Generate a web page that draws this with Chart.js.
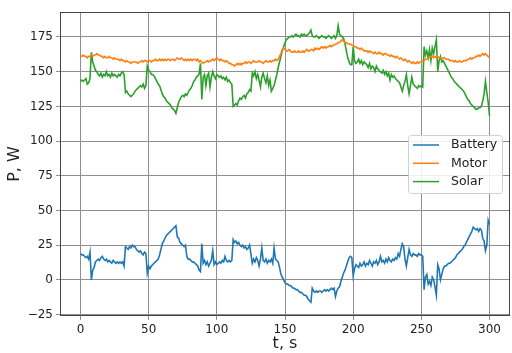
<!DOCTYPE html>
<html>
<head>
<meta charset="utf-8">
<script src="https://cdn.jsdelivr.net/npm/chart.js"></script>
<style>
  body { margin: 0; background: #fff; }
  #wrap { width: 512px; height: 353px; }
</style>
</head>
<body>
<div id="wrap"><canvas id="grafico" width="512" height="353"></canvas></div>
<script>
// time axis, one sample per second
const tempo = Array.from({ length: 301 }, (_, i) => i);

const xTicks = [0, 50, 100, 150, 200, 250, 300];
const yTicks = [-25, 0, 25, 50, 75, 100, 125, 150, 175];

const battery = [
    19, 18, 18, 17, 16, 17, 15, 20, 0, 7,
    9, 13, 14, 15, 14, 16, 17, 15, 14, 15,
    13, 14, 13, 12, 14, 13, 12, 13, 12, 13,
    12, 13, 10, 24, 23, 22, 24, 23, 25, 24,
    24, 22, 21, 20, 21, 19, 18, 20, 19, 5,
    10, 8, 10, 11, 12, 13, 14, 15, 18, 22,
    26, 28, 30, 32, 33, 34, 35, 36, 37, 38,
    39, 31, 30, 27, 26, 25, 24, 25, 17, 15,
    15, 14, 13, 13, 12, 11, 10, 7, 6, 26,
    12, 14, 11, 13, 10, 12, 14, 21, 11, 13,
    11, 12, 13, 12, 14, 13, 17, 14, 13, 14,
    13, 14, 29, 27, 28, 26, 27, 25, 24, 25,
    23, 24, 22, 23, 25, 19, 12, 15, 13, 16,
    14, 10, 15, 23, 14, 13, 15, 12, 14, 13,
    15, 12, 23, 15, 14, 13, 9, 4, 2, 0,
    -2, -3, -3, -4, -4, -5, -6, -6, -7, -7,
    -8, -9, -9, -10, -11, -11, -12, -14, -15, -16,
    -6, -8, -9, -8, -9, -8, -8, -9, -8, -7,
    -8, -7, -8, -7, -6, -7, -6, -12, -8, -6,
    -5, -1, 2, 5, 7, 10, 13, 16, 17, 16,
    3, 8, 11, 10, 9, 12, 10, 11, 13, 10,
    12, 11, 14, 12, 10, 13, 12, 14, 11, 13,
    17, 13, 14, 12, 15, 13, 16, 14, 13, 15,
    14, 16, 15, 19, 17, 22, 26, 24, 15, 10,
    16, 22, 18, 17, 19, 18, 18, 17, 19, 18,
    18, 17, -7, 2, 4, -3, -1, -4, 2, 0,
    -5, -11, 11, 8, 0, 4, 8, 10, 10, 11,
    12, 12, 13, 14, 15, 16, 18, 19, 20, 21,
    22, 24, 25, 27, 29, 31, 33, 35, 38, 37,
    36, 37, 35, 37, 36, 30, 28, 21, 25, 43,
    40
];

const motor = [
    161, 161, 162, 161, 161, 160, 161, 161, 162, 161,
    162, 162, 163, 162, 162, 161, 161, 160, 161, 160,
    160, 161, 160, 160, 159, 160, 159, 159, 159, 158,
    159, 158, 158, 157, 158, 157, 157, 156, 157, 157,
    157, 157, 156, 157, 157, 158, 157, 158, 158, 157,
    158, 158, 157, 158, 158, 159, 158, 158, 159, 158,
    159, 158, 159, 158, 159, 159, 158, 159, 159, 158,
    159, 160, 159, 159, 160, 159, 158, 159, 158, 159,
    158, 159, 158, 159, 159, 158, 159, 157, 158, 157,
    156, 157, 157, 158, 157, 158, 158, 159, 158, 159,
    160, 159, 158, 159, 158, 158, 157, 158, 157, 156,
    156, 155, 155, 154, 155, 156, 155, 156, 155, 156,
    156, 157, 156, 157, 157, 156, 157, 158, 157, 157,
    157, 158, 157, 157, 156, 157, 158, 157, 157, 158,
    157, 158, 158, 159, 158, 159, 161, 163, 166, 167,
    166, 165, 165, 166, 165, 164, 164, 165, 164, 164,
    165, 164, 164, 165, 164, 165, 166, 165, 165, 166,
    166, 165, 167, 166, 167, 166, 167, 168, 167, 168,
    167, 168, 168, 169, 168, 169, 169, 170, 170, 171,
    171, 172, 173, 172, 171, 171, 170, 170, 170, 169,
    169, 168, 168, 167, 167, 166, 167, 166, 165, 165,
    165, 164, 165, 164, 164, 163, 164, 163, 163, 164,
    163, 163, 162, 163, 163, 162, 162, 161, 162, 161,
    161, 160, 161, 160, 159, 160, 159, 158, 159, 158,
    157, 158, 157, 156, 157, 156, 156, 157, 156, 157,
    157, 158, 158, 159, 159, 160, 160, 161, 161, 160,
    161, 160, 161, 160, 160, 159, 160, 160, 159, 159,
    159, 158, 158, 158, 157, 158, 157, 157, 158, 157,
    157, 158, 158, 158, 159, 159, 160, 159, 160, 160,
    161, 161, 162, 161, 162, 163, 162, 163, 162, 161,
    160
];

const solar = [
    143, 144, 143, 144, 145, 141, 142, 145, 164, 157,
    154, 151, 150, 148, 147, 149, 146, 148, 147, 150,
    147, 148, 146, 149, 147, 148, 147, 146, 148, 147,
    149, 150, 148, 135, 136, 134, 133, 132, 133, 134,
    136, 137, 138, 139, 140, 139, 141, 138, 140, 154,
    151, 150, 148, 148, 147, 145, 143, 141, 140, 137,
    134, 132, 131, 129, 128, 127, 126, 124, 123, 122,
    120, 124, 128, 130, 132, 133, 132, 134, 133, 135,
    137, 138, 140, 143, 144, 146, 147, 148, 156, 130,
    146, 148, 140, 147, 149, 139, 146, 150, 147, 145,
    148, 147, 146, 147, 145, 146, 144, 146, 143, 144,
    142, 141, 125, 126, 127, 126, 129, 131, 130, 132,
    133, 131, 134, 135, 137, 136, 149, 147, 150, 145,
    148, 144, 139, 146, 149, 145, 142, 147, 140, 144,
    136, 138, 140, 144, 148, 153, 157, 161, 165, 168,
    171, 173, 174, 175, 175, 176, 175, 176, 177, 176,
    176, 175, 177, 176, 177, 176, 176, 177, 178, 180,
    176, 175, 175, 176, 175, 174, 175, 176, 175, 175,
    174, 175, 176, 175, 174, 175, 176, 174, 176, 183,
    177, 176, 175, 174, 170, 165, 160, 157, 155, 155,
    168, 158, 156, 157, 159, 156, 158, 155, 157, 156,
    155, 153, 156, 152, 154, 153, 150, 154, 152, 151,
    150, 149, 151, 148, 150, 147, 149, 144, 148, 146,
    147, 145, 144, 143, 142, 139, 136, 140, 143, 148,
    140, 134, 140, 146, 141, 140, 139, 138, 140, 139,
    140, 139, 168, 162, 165, 160, 166, 158, 167, 163,
    168, 173, 150, 158, 161, 157, 158, 156, 154, 152,
    150, 148, 146, 145, 143, 142, 141, 140, 139, 138,
    137, 136, 134, 132, 130, 129, 127, 126, 125, 124,
    123, 123, 124, 124, 125, 129, 134, 143, 135, 128,
    118
];

const fonte = '"DejaVu Sans", sans-serif';

function serie(label, valores, cor) {
    return {
        label: label,
        data: tempo.map((t, i) => ({ x: t, y: valores[i] })),
        borderColor: cor,
        backgroundColor: cor,
        borderWidth: 1.6,
        pointRadius: 0,
        tension: 0,
        fill: false
    };
}

// moldura em volta da area do grafico + legenda dentro da area
const moldura = {
    id: 'moldura',
    afterDraw(chart) {
        const ctx = chart.ctx;
        const a = chart.chartArea;
        ctx.save();
        ctx.strokeStyle = '#444';
        ctx.lineWidth = 1;
        ctx.strokeRect(a.left + 0.5, a.top + 0.5, a.right - a.left - 1, a.bottom - a.top - 1);

        // legenda
        const lx = a.right - 102, ly = 135, lw = 94, lh = 58;
        ctx.fillStyle = 'rgba(255,255,255,0.85)';
        ctx.strokeStyle = '#d0d0d0';
        ctx.beginPath();
        ctx.roundRect(lx + 0.5, ly + 0.5, lw, lh, 3);
        ctx.fill();
        ctx.stroke();

        ctx.font = '12.5px ' + fonte;
        ctx.textBaseline = 'middle';
        chart.data.datasets.forEach((ds, i) => {
            const yy = ly + 10 + i * 18.3;
            ctx.strokeStyle = ds.borderColor;
            ctx.lineWidth = 1.5;
            ctx.beginPath();
            ctx.moveTo(lx + 5, yy);
            ctx.lineTo(lx + 31, yy);
            ctx.stroke();
            ctx.fillStyle = '#222';
            ctx.fillText(ds.label, lx + 43, yy);
        });
        ctx.restore();
    }
};

const config = {
    type: 'line',
    data: {
        datasets: [
            serie('Battery', battery, '#1f77b4'),
            serie('Motor', motor, '#ff7f0e'),
            serie('Solar', solar, '#2ca02c')
        ]
    },
    options: {
        responsive: false,
        animation: false,
        layout: { padding: { top: 12, right: 2, left: 0, bottom: 0 } },
        plugins: {
            legend: { display: false },
            tooltip: { enabled: false }
        },
        scales: {
            x: {
                type: 'linear',
                min: -15,
                max: 315,
                afterBuildTicks: (axis) => { axis.ticks = xTicks.map(v => ({ value: v })); },
                afterFit: (axis) => { axis.height = 37; },
                ticks: { color: '#222', font: { family: fonte, size: 12 }, padding: 3, maxRotation: 0 },
                grid: { color: '#8e8e8e', lineWidth: 1, tickLength: 4 },
                border: { display: false },
                title: { display: true, text: 't, s', color: '#222', font: { family: fonte, size: 16 }, padding: { top: 0, bottom: 0 } }
            },
            y: {
                type: 'linear',
                min: -26,
                max: 193,
                afterBuildTicks: (axis) => { axis.ticks = yTicks.map(v => ({ value: v })); },
                afterFit: (axis) => { axis.width = 60; },
                ticks: {
                    color: '#222',
                    font: { family: fonte, size: 12 },
                    padding: 3,
                    callback: (v) => String(v).replace('-', '\u2212')
                },
                grid: { color: '#8e8e8e', lineWidth: 1, tickLength: 4 },
                border: { display: false },
                title: { display: true, text: 'P, W', color: '#222', font: { family: fonte, size: 16 }, padding: { top: 5, bottom: 0 } }
            }
        }
    },
    plugins: [moldura]
};

new Chart(document.getElementById('grafico'), config);
</script>
</body>
</html>
